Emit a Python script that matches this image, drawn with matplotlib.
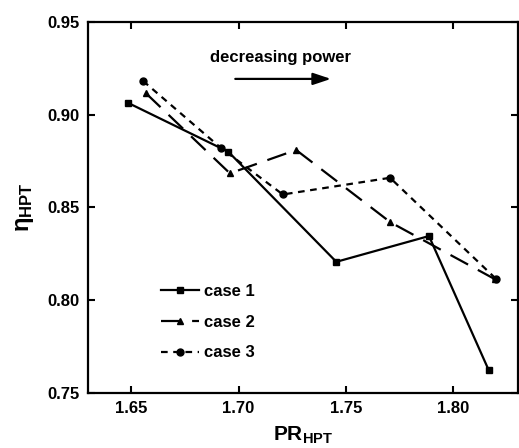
import matplotlib
matplotlib.use("Agg")
import matplotlib.pyplot as plt

plt.rcParams['font.family'] = ['Liberation Sans', 'DejaVu Sans']
plt.rcParams['font.weight'] = 'bold'
plt.rcParams['mathtext.fontset'] = 'custom'
plt.rcParams['mathtext.rm'] = 'Liberation Sans:bold'
plt.rcParams['mathtext.bf'] = 'Liberation Sans:bold'
plt.rcParams['mathtext.it'] = 'Liberation Sans:bold'

x1 = [1.6484, 1.6953, 1.7455, 1.7886, 1.8164]
y1 = [0.9065, 0.880, 0.8207, 0.8346, 0.7623]
x2 = [1.657, 1.696, 1.7268, 1.7707, 1.8195]
y2 = [0.9115, 0.8684, 0.881, 0.842, 0.8112]
x3 = [1.6556, 1.6917, 1.7206, 1.7705, 1.8199]
y3 = [0.9182, 0.8822, 0.857, 0.866, 0.8114]
labels = ['case 1', 'case 2', 'case 3']
xticks = [1.65, 1.70, 1.75, 1.80]
yticks = [0.75, 0.80, 0.85, 0.90, 0.95]

fig = plt.figure(figsize=(5.19, 4.48), dpi=100)
ax = fig.add_axes([0.1696, 0.1228, 0.8284, 0.8282])

ax.plot(x1, y1, '-', color='black', lw=1.6, marker='s', ms=5, label=labels[0])
ax.plot(x2, y2, color='black', lw=1.6, marker='^', ms=5, dashes=(9, 5), label=labels[1])
ax.plot(x3, y3, color='black', lw=1.6, marker='o', ms=5, dashes=(3, 2.5), label=labels[2])

ax.set_xlim(1.63, 1.83)
ax.set_ylim(0.75, 0.95)
ax.set_xticks(xticks)
ax.set_yticks(yticks)
ax.set_xticklabels([f"{t:.2f}" for t in xticks], fontsize=12, fontweight='bold')
ax.set_yticklabels([f"{t:.2f}" for t in yticks], fontsize=12, fontweight='bold')
ax.tick_params(direction='in', length=5, width=1.5, top=True, right=True, pad=6)
for s in ax.spines.values():
    s.set_linewidth(1.6)

ax.set_xlabel(r'$\mathrm{PR}_{\mathrm{HPT}}$', fontsize=15, labelpad=6)
ax.set_ylabel(r'$\mathrm{\eta}_{\mathrm{HPT}}$', fontsize=17, labelpad=8)

ax.text(1.7195, 0.9311, 'decreasing power', ha='center', va='center', fontsize=12, fontweight='bold')
ax.annotate('', xy=(1.7430, 0.9193), xytext=(1.6985, 0.9193),
            arrowprops=dict(arrowstyle='-|>,head_length=0.9,head_width=0.3', color='black',
                            lw=1.6, mutation_scale=12, shrinkA=0, shrinkB=0))

leg = ax.legend(loc='upper left', bbox_to_anchor=(0.135, 0.335), frameon=False,
                fontsize=12, handlelength=2.3, labelspacing=0.95, handletextpad=0.3)
for t in leg.get_texts():
    t.set_fontweight('bold')

fig.savefig('out.png', dpi=100)
